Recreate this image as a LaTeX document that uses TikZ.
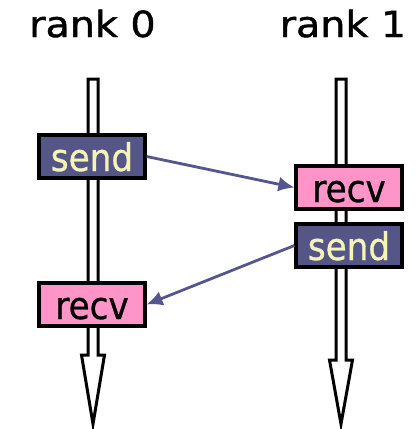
\documentclass[tikz,border=0pt]{standalone}
\usepackage{fontspec}
\newfontfamily\rankfont[FakeStretch=1.1,FakeBold=1.2]{DejaVu Sans}
\newfontfamily\boxfont[FakeStretch=0.9,FakeBold=0.8]{DejaVu Sans}
\usetikzlibrary{arrows.meta}
\definecolor{sendfill}{HTML}{555588}
\definecolor{sendtext}{HTML}{F4F4B6}
\definecolor{recvfill}{HTML}{FF94C9}
\definecolor{msgline}{HTML}{55558F}
\tikzset{
  op/.style={shape=rectangle,draw=black,line width=3.2pt,minimum width=106pt,minimum height=43pt,inner sep=0pt,
    text height=29pt,text depth=0pt,font=\boxfont\fontsize{38}{38}\selectfont},
  sendop/.style={op,fill=sendfill,text=sendtext},
  recvop/.style={op,fill=recvfill,text=black},
  rank/.style={anchor=base,inner sep=0pt,font=\rankfont\fontsize{36}{36}\selectfont},
  timeline/.style={draw=black,fill=white,line width=3pt,line join=miter},
  msg/.style={draw=msgline,line width=2.8pt,-{Latex[length=16pt,width=15pt]}}
}
\begin{document}
\begin{tikzpicture}[x=1pt,y=-1pt]
\useasboundingbox (0,0) rectangle (417,429);
\node[rank] (r0) at (92.5,37) {rank 0};
\node[rank] (r1) at (343,37) {rank 1};

% time lines
\path[timeline] (88,79) -- (88,355) -- (81.5,355) -- (93,424) -- (104.5,355) -- (98,355) -- (98,79) -- cycle;
\path[timeline] (336,79) -- (336,360) -- (329.5,360) -- (341,424) -- (352.5,360) -- (346,360) -- (346,79) -- cycle;

\node[sendop] (0) at (92,156.5) {send};
\node[recvop] (1) at (349,187.5) {recv};
\node[sendop] (2) at (349,245.5) {send};
\node[recvop] (3) at (92,304.5) {recv};

\path[msg] (0.east) -- (1.west);
\path[msg] (2.west) -- (3.east);
\end{tikzpicture}
\end{document}
